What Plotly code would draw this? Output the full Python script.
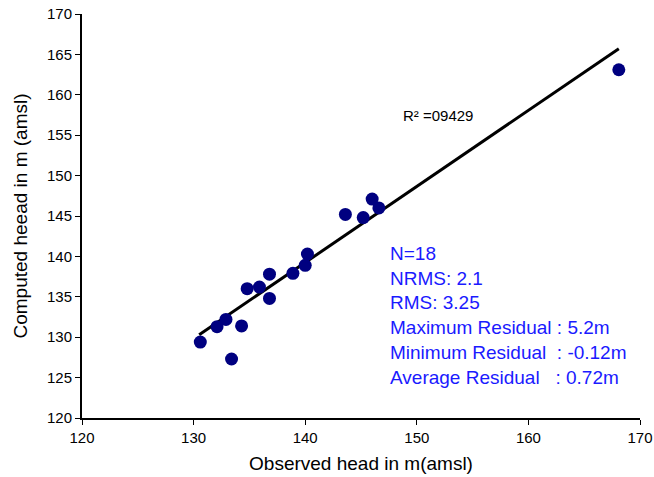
import plotly.graph_objects as go

observed = [130.6, 133.4, 132.1, 132.9, 134.3, 134.8, 135.9, 136.8, 136.8,
            138.9, 140.0, 140.2, 143.6, 145.2, 146.0, 146.6, 168.1]
computed = [129.4, 127.3, 131.3, 132.2, 131.4, 136.0, 136.2, 137.8, 134.8,
            137.9, 138.9, 140.3, 145.2, 144.8, 147.1, 146.0, 163.1]

trend_x = [130.5, 168.1]
trend_y = [130.3, 165.7]

r2_label = "R² =09429"
stats_lines = ["N=18", "NRMS: 2.1", "RMS: 3.25", "Maximum Residual : 5.2m",
               "Minimum Residual  : -0.12m", "Average Residual   : 0.72m"]

x_ticks = [120, 130, 140, 150, 160, 170]
y_ticks = [120, 125, 130, 135, 140, 145, 150, 155, 160, 165, 170]

font_family = "Arial, Liberation Sans, sans-serif"

fig = go.Figure()
fig.add_trace(go.Scatter(x=trend_x, y=trend_y, mode="lines",
                         line=dict(color="black", width=3), showlegend=False,
                         hoverinfo="skip", cliponaxis=False))
fig.add_trace(go.Scatter(x=observed, y=computed, mode="markers",
                         marker=dict(color="#000080", size=13), showlegend=False,
                         cliponaxis=False))

fig.add_annotation(x=151.9, y=157.4, text=r2_label, showarrow=False,
                   font=dict(family=font_family, size=15, color="black"))
fig.add_annotation(x=147.4, y=141.9, xanchor="left", yanchor="top", align="left",
                   text="<br>".join(s.replace("  ", "&nbsp; ") for s in stats_lines),
                   showarrow=False,
                   font=dict(family=font_family, size=19, color="#1a1aff"))

fig.update_layout(
    width=654, height=477,
    margin=dict(l=82, r=14, t=14, b=59),
    plot_bgcolor="white", paper_bgcolor="white",
    font=dict(family=font_family, color="black"),
    xaxis=dict(range=[120, 170], tickvals=x_ticks, showgrid=False, zeroline=False,
               showline=True, linecolor="black", linewidth=2, automargin=False,
               ticks="outside", ticklen=5, tickwidth=1, tickcolor="black",
               tickfont=dict(size=15), ticklabeloverflow="allow",
               title=dict(text="Observed head in m(amsl)", font=dict(size=19), standoff=12)),
    yaxis=dict(range=[120, 170], tickvals=y_ticks, showgrid=False, zeroline=False,
               showline=True, linecolor="black", linewidth=2, automargin=False,
               ticks="outside", ticklen=5, tickwidth=1, tickcolor="black",
               tickfont=dict(size=15), ticklabeloverflow="allow",
               title=dict(text="Computed heead in m (amsl)", font=dict(size=19), standoff=14)),
)

# remove the page's default body margin so the figure fills the window exactly
fig.write_html("out.html",
               config={"displayModeBar": False},
               post_script="document.body.style.margin='0';document.body.style.overflow='hidden';")
